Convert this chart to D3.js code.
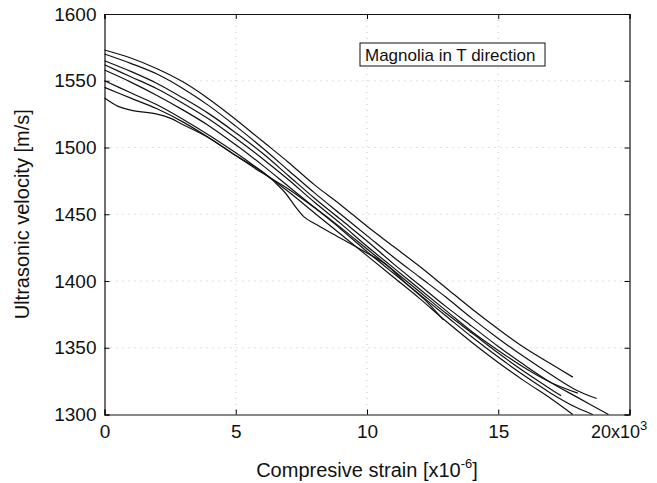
<!DOCTYPE html>
<html lang="en">
<head>
<meta charset="UTF-8">
<title>Magnolia in T direction</title>
<style>
  body { margin: 0; background: #fff; }
  svg { display: block; font-family: "Liberation Sans", Arial, sans-serif; }
</style>
</head>
<body>
<svg id="chart"></svg>
<script src="https://d3js.org/d3.v7.min.js"></script>
<script>
// strain in units of 10^3 x 10^-6, velocity in m/s (8 specimens)
const strain1 = [0, 1, 2, 3, 4, 5, 6, 7, 8, 9, 10, 11, 12, 13, 14, 15, 16, 17, 17.84];
const vel1 = [1573, 1567, 1559, 1549, 1536, 1521, 1505, 1489, 1472, 1457, 1441, 1426, 1411, 1395, 1379, 1364, 1350, 1338, 1328];
const strain2 = [0, 1, 2, 3, 4, 5, 6, 7, 8, 9, 10, 11, 12, 13, 14, 15, 16, 17, 18, 18.75];
const vel2 = [1570, 1563, 1555, 1544, 1531, 1516, 1500, 1483, 1466, 1450, 1434, 1418, 1403, 1388, 1372, 1357, 1343, 1330, 1318, 1312];
const strain3 = [0, 1, 2, 3, 4, 5, 6, 7, 8, 9, 10, 11, 12, 13, 14, 15, 16, 17, 18, 19.2];
const vel3 = [1565, 1557, 1548, 1537, 1525, 1511, 1496, 1479, 1462, 1446, 1430, 1413, 1397, 1381, 1366, 1351, 1337, 1324, 1313, 1300];
const strain4 = [0, 1, 2, 3, 4, 5, 6, 7, 8, 9, 10, 11, 12, 13, 14, 15, 16, 17, 18.03];
const vel4 = [1562, 1553, 1544, 1533, 1521, 1507, 1492, 1476, 1459, 1443, 1426, 1410, 1394, 1378, 1362, 1348, 1335, 1324, 1316];
const strain5 = [0, 1, 2, 3, 4, 5, 6, 7, 8, 9, 10, 11, 12, 13, 14, 15, 16, 17, 18, 18.6];
const vel5 = [1558, 1549, 1539, 1528, 1516, 1502, 1487, 1471, 1455, 1439, 1422, 1406, 1390, 1374, 1358, 1343, 1329, 1316, 1305, 1300];
const strain6 = [0, 1, 2, 3, 4, 5, 6, 7, 8, 9, 10, 11, 12, 13, 14, 15, 16, 17, 17.84];
const vel6 = [1550, 1541, 1532, 1521, 1509, 1496, 1482, 1467, 1451, 1435, 1419, 1403, 1387, 1370, 1354, 1339, 1325, 1312, 1300];
const strain7 = [0, 1, 2, 3, 4, 5, 6, 7, 8, 9, 10, 11, 12, 13, 14, 15, 16, 17, 17.4];
const vel7 = [1545, 1537, 1529, 1519, 1507, 1494, 1481, 1469, 1455, 1440, 1424, 1408, 1392, 1376, 1361, 1346, 1332, 1319, 1314];
const strain8 = [0, 0.5, 1, 2, 2.5, 3, 4, 5, 6, 6.8, 7.3, 7.6, 8, 9, 10, 10.75, 11.5, 12.3, 12.9];
const vel8 = [1537, 1531, 1528, 1525, 1522, 1517, 1507, 1494, 1482, 1468, 1455, 1448, 1443, 1432, 1421, 1412, 1398, 1384, 1371];

const xTicks = [0, 5, 10, 15, 20];
const yTicks = [1300, 1350, 1400, 1450, 1500, 1550, 1600];

const width = 657, height = 483;
const marginLeft = 104.5, marginRight = 27.5, marginTop = 14, marginBottom = 68.5;

const series = [
  [strain1, vel1], [strain2, vel2], [strain3, vel3], [strain4, vel4],
  [strain5, vel5], [strain6, vel6], [strain7, vel7], [strain8, vel8]
].map(([xs, ys]) => xs.map((x, i) => [x, ys[i]]));

const svg = d3.select("#chart")
  .attr("width", width)
  .attr("height", height)
  .attr("viewBox", [0, 0, width, height]);

const x = d3.scaleLinear([0, 20], [marginLeft, width - marginRight]);
const y = d3.scaleLinear([1300, 1600], [height - marginBottom, marginTop]);

// dotted grid
svg.append("g")
  .attr("stroke", "#b5b5b5")
  .attr("stroke-width", 0.8)
  .attr("stroke-dasharray", "1,5")
  .call(g => g.selectAll("line.gx")
    .data(xTicks.slice(1, -1))
    .join("line")
    .attr("class", "gx")
    .attr("x1", d => x(d)).attr("x2", d => x(d))
    .attr("y1", marginTop).attr("y2", height - marginBottom))
  .call(g => g.selectAll("line.gy")
    .data(yTicks.slice(1, -1))
    .join("line")
    .attr("class", "gy")
    .attr("x1", marginLeft).attr("x2", width - marginRight)
    .attr("y1", d => y(d)).attr("y2", d => y(d)));

// axes (ticks inward, MATLAB style)
const xAxis = d3.axisBottom(x).tickValues(xTicks).tickSize(-5).tickPadding(10)
  .tickFormat(d => d === 20 ? "" : d);
const yAxis = d3.axisLeft(y).tickValues(yTicks).tickSize(-5).tickPadding(8)
  .tickFormat(d3.format("d"));

svg.append("g")
  .attr("transform", `translate(0,${height - marginBottom})`)
  .call(xAxis)
  .call(g => g.selectAll("text").attr("font-size", 19).attr("font-family", null).attr("fill", "#111"));

svg.append("g")
  .attr("transform", `translate(${marginLeft},0)`)
  .call(yAxis)
  .call(g => g.selectAll("text").attr("font-size", 19).attr("font-family", null).attr("fill", "#111"));

svg.append("g")
  .attr("transform", `translate(0,${marginTop})`)
  .call(d3.axisTop(x).tickValues(xTicks).tickSize(-5).tickFormat(""));
svg.append("g")
  .attr("transform", `translate(${width - marginRight},0)`)
  .call(d3.axisRight(y).tickValues(yTicks).tickSize(-5).tickFormat(""));

svg.selectAll(".domain").attr("stroke", "#111").attr("stroke-width", 1.2);

// last tick label with exponent
svg.append("text")
  .attr("x", 591)
  .attr("y", height - marginBottom + 23.5)
  .attr("font-size", 18)
  .attr("fill", "#111")
  .call(t => t.append("tspan").text("20x10"))
  .call(t => t.append("tspan").attr("dy", -8).attr("font-size", 13).text("3"));

// axis titles
svg.append("text")
  .attr("x", (marginLeft + width - marginRight) / 2)
  .attr("y", 477)
  .attr("text-anchor", "middle")
  .attr("font-size", 20)
  .attr("fill", "#111")
  .call(t => t.append("tspan").text("Compresive strain [x10"))
  .call(t => t.append("tspan").attr("dy", -9).attr("font-size", 13).text("-6"))
  .call(t => t.append("tspan").attr("dy", 9).text("]"));

svg.append("text")
  .attr("transform", `translate(29,${(marginTop + height - marginBottom) / 2}) rotate(-90)`)
  .attr("text-anchor", "middle")
  .attr("font-size", 20)
  .attr("fill", "#111")
  .text("Ultrasonic velocity [m/s]");

// curves
const line = d3.line()
  .x(d => x(d[0]))
  .y(d => y(d[1]))
  .curve(d3.curveCatmullRom);

svg.append("g")
  .attr("fill", "none")
  .attr("stroke", "#111")
  .attr("stroke-width", 1.2)
  .selectAll("path")
  .data(series)
  .join("path")
  .attr("d", line);

// legend box
const legend = svg.append("g").attr("transform", "translate(360,43)");
legend.append("rect")
  .attr("width", 185).attr("height", 23)
  .attr("fill", "#fff").attr("stroke", "#111").attr("stroke-width", 1);
legend.append("text")
  .attr("x", 5).attr("y", 17.5)
  .attr("font-size", 17)
  .attr("fill", "#111")
  .text("Magnolia in T direction");
</script>
</body>
</html>
